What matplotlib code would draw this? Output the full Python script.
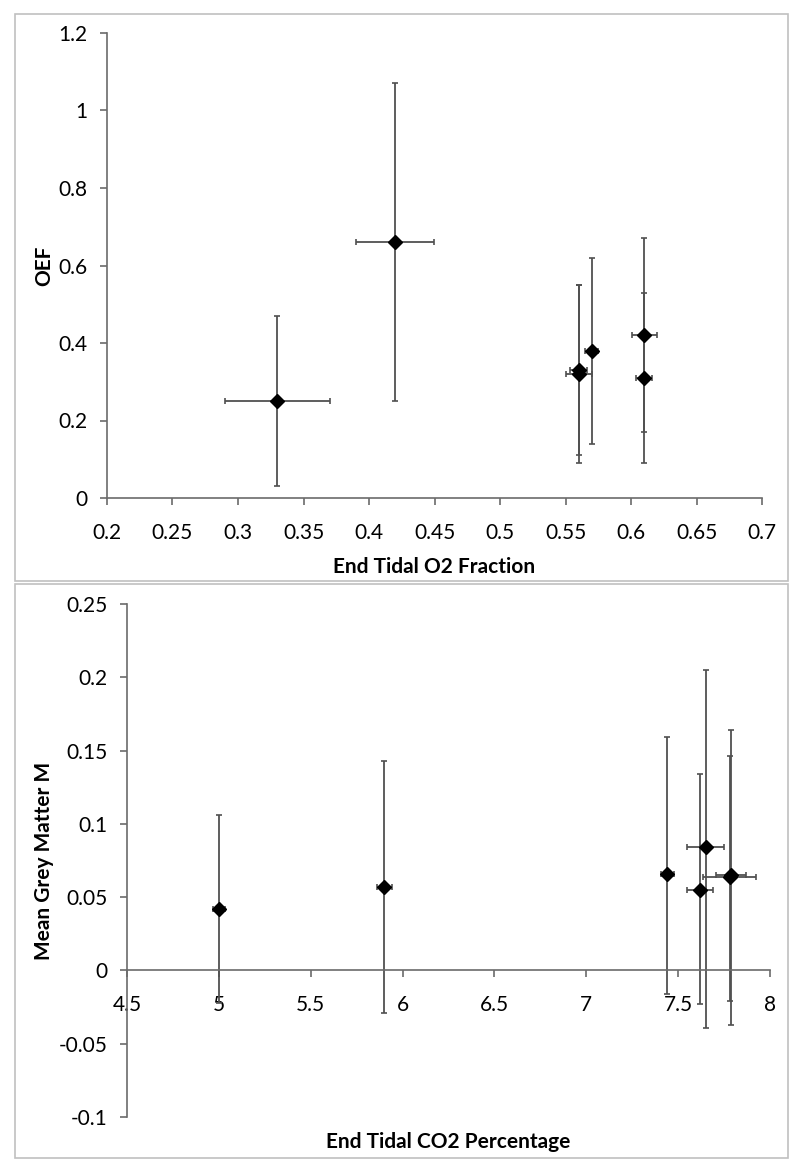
import matplotlib
matplotlib.use('Agg')
import matplotlib.pyplot as plt
from matplotlib.patches import Rectangle
from matplotlib.ticker import FuncFormatter, MultipleLocator

plt.rcParams['font.family'] = ['Lato', 'DejaVu Sans']

# top panel: end tidal O2 fraction vs OEF
o2_x = [0.33, 0.42, 0.56, 0.56, 0.57, 0.61, 0.61]
o2_xerr = [0.04, 0.03, 0.0065, 0.01, 0.005, 0.0095, 0.006]
oef = [0.25, 0.66, 0.33, 0.32, 0.38, 0.42, 0.31]
oef_err = [0.22, 0.41, 0.22, 0.23, 0.24, 0.25, 0.22]

# bottom panel: end tidal CO2 percentage vs mean grey matter M
co2_x = [5.0, 5.9, 7.44, 7.62, 7.65, 7.78, 7.79]
co2_xerr = [0.033, 0.041, 0.036, 0.071, 0.1, 0.144, 0.082]
gm_m = [0.042, 0.057, 0.066, 0.055, 0.084, 0.064, 0.065]
gm_lo = [0.064, 0.086, 0.082, 0.078, 0.123, 0.085, 0.102]
gm_hi = [0.064, 0.086, 0.093, 0.079, 0.121, 0.082, 0.099]

axis_col = '#6b6b6b'
bar_col = '#505050'
fmt = FuncFormatter(lambda v, p: '%g' % round(v, 3))

fig = plt.figure(figsize=(8, 11.73), dpi=100)

# panel frames
for y0, y1 in [(14, 581), (584, 1158)]:
    fig.patches.append(Rectangle((15 / 800, 1 - y1 / 1173), 773 / 800, (y1 - y0) / 1173,
                                 transform=fig.transFigure, fill=False,
                                 edgecolor='#c0c0c0', linewidth=1.2))

def style_axes(ax):
    for s in ['top', 'right']:
        ax.spines[s].set_visible(False)
    for s in ['left', 'bottom']:
        ax.spines[s].set_color(axis_col)
        ax.spines[s].set_linewidth(1.2)
    ax.tick_params(direction='out', length=5, width=1.2, color=axis_col,
                   labelsize=15, labelcolor='black')
    ax.tick_params(axis='y', pad=9)
    ax.tick_params(axis='x', pad=13)
    ax.xaxis.set_major_formatter(fmt)
    ax.yaxis.set_major_formatter(fmt)

ax1 = fig.add_axes([107 / 800, 1 - 498 / 1173, 655 / 800, 465 / 1173])
ax1.errorbar(o2_x, oef, xerr=o2_xerr, yerr=oef_err, fmt='D', color='black',
             markersize=7, ecolor=bar_col, elinewidth=1.3, capsize=2.5, capthick=1.2)
ax1.set_xlim(0.2, 0.7)
ax1.set_ylim(0, 1.2)
ax1.xaxis.set_major_locator(MultipleLocator(0.05))
ax1.yaxis.set_major_locator(MultipleLocator(0.2))
style_axes(ax1)
ax1.set_xlabel('End Tidal O2 Fraction', fontsize=15, fontweight='bold', labelpad=10)
ax1.set_ylabel('OEF', fontsize=15, fontweight='bold')
ax1.yaxis.set_label_coords(-0.081, 0.5)

ax2 = fig.add_axes([127 / 800, 1 - 1117 / 1173, 643 / 800, 513 / 1173])
ax2.errorbar(co2_x, gm_m, xerr=co2_xerr, yerr=[gm_lo, gm_hi], fmt='D', color='black',
             markersize=7, ecolor=bar_col, elinewidth=1.3, capsize=2.5, capthick=1.2)
ax2.set_xlim(4.5, 8)
ax2.set_ylim(-0.1, 0.25)
ax2.xaxis.set_major_locator(MultipleLocator(0.5))
ax2.yaxis.set_major_locator(MultipleLocator(0.05))
style_axes(ax2)
ax2.spines['bottom'].set_position(('data', 0))
ax2.set_xlabel('End Tidal CO2 Percentage', fontsize=15, fontweight='bold')
ax2.xaxis.set_label_coords(0.5, -0.03)
ax2.set_ylabel('Mean Grey Matter M', fontsize=15, fontweight='bold')
ax2.yaxis.set_label_coords(-0.1135, 0.5)

fig.savefig('out.png', dpi=100)
